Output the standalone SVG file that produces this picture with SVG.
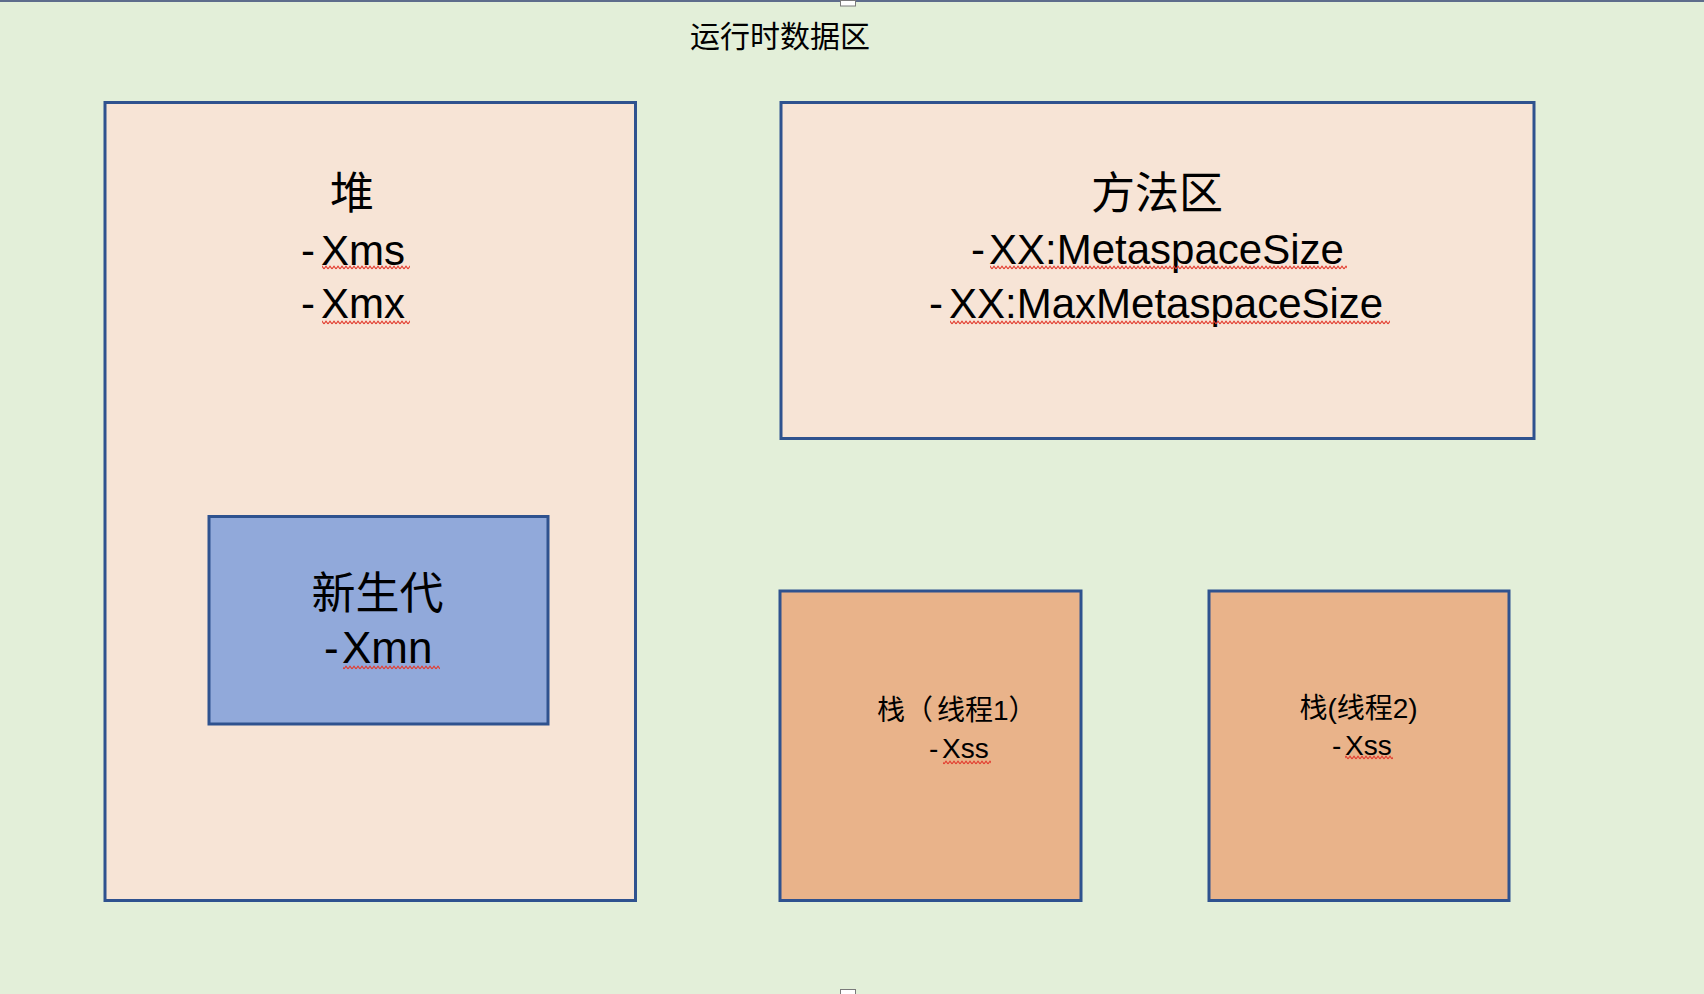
<svg xmlns="http://www.w3.org/2000/svg" width="1704" height="994" viewBox="0 0 1704 994">
  <style>
    .box { stroke: #2F528F; stroke-width: 3; }
    .light { fill: #F7E4D6; }
    .blue { fill: #91A9DA; }
    .stack { fill: #E9B38A; }
    text { font-family: "Liberation Sans", "Noto Sans CJK SC", sans-serif; fill: #000000; }
    .big { font-size: 42px; }
    .cjk { font-size: 44px; }
    .small { font-size: 28px; }
    .title { font-size: 30px; }
    .wave { fill: url(#wave); }
  </style>
  <defs>
    <pattern id="wave" x="0" y="0" width="4" height="5" patternUnits="userSpaceOnUse">
      <path d="M0,4 L2,1.2 L4,4" fill="none" stroke="#E23B2E" stroke-width="1.1"/>
    </pattern>
  </defs>

  <rect x="0" y="0" width="1704" height="994" fill="#E3EFD9"/>
  <rect x="0" y="0" width="1704" height="2" fill="#5E6D8C"/>
  <rect x="840.5" y="0.5" width="15" height="5.5" fill="#FFFFFF" stroke="#7A7A7A" stroke-width="1"/>
  <rect x="840.5" y="989.5" width="15" height="5" fill="#FFFFFF" stroke="#7A7A7A" stroke-width="1"/>

  <g id="title">
    <text class="title" x="780" y="47" text-anchor="middle">运行时数据区</text>
  </g>

  <g id="heap">
    <rect class="box light" x="105" y="102.5" width="530.5" height="798"/>
    <text class="cjk" x="352" y="209" text-anchor="middle">堆</text>
    <text class="big" x="301" y="265">-<tspan x="321">Xms</tspan></text>
    <text class="big" x="301" y="318">-<tspan x="321">Xmx</tspan></text>
    <rect class="wave" x="322" y="265" width="88" height="5"/>
    <rect class="wave" x="322" y="320" width="88" height="5"/>
  </g>

  <g id="young-gen">
    <rect class="box blue" x="209" y="516.5" width="339" height="207.5"/>
    <text class="cjk" x="377.5" y="609" text-anchor="middle">新生代</text>
    <text class="big" x="324" y="663" style="font-size:44px">-<tspan x="342">Xmn</tspan></text>
    <rect class="wave" x="343" y="665" width="97" height="5"/>
  </g>

  <g id="method-area">
    <rect class="box light" x="781" y="102.5" width="753" height="336"/>
    <text class="cjk" x="1157" y="209" text-anchor="middle">方法区</text>
    <text class="big" x="971" y="264">-<tspan x="989">XX:MetaspaceSize</tspan></text>
    <text class="big" x="929" y="318">-<tspan x="949">XX:MaxMetaspaceSize</tspan></text>
    <rect class="wave" x="990" y="265" width="357" height="5"/>
    <rect class="wave" x="950" y="320" width="440" height="5"/>
  </g>

  <g id="stack-thread1">
    <rect class="box stack" x="780" y="591" width="301" height="309.5"/>
    <text class="small" x="877" y="720">栈（<tspan x="937">线程1）</tspan></text>
    <text class="small" x="929" y="758">-<tspan x="942">Xss</tspan></text>
    <rect class="wave" x="943" y="760" width="48" height="5"/>
  </g>

  <g id="stack-thread2">
    <rect class="box stack" x="1209" y="591" width="300" height="309.5"/>
    <text class="small" x="1358.5" y="718" text-anchor="middle">栈(线程2)</text>
    <text class="small" x="1332" y="755">-<tspan x="1345">Xss</tspan></text>
    <rect class="wave" x="1345" y="755" width="48" height="5"/>
  </g>

  <g id="connectors"/>
</svg>
